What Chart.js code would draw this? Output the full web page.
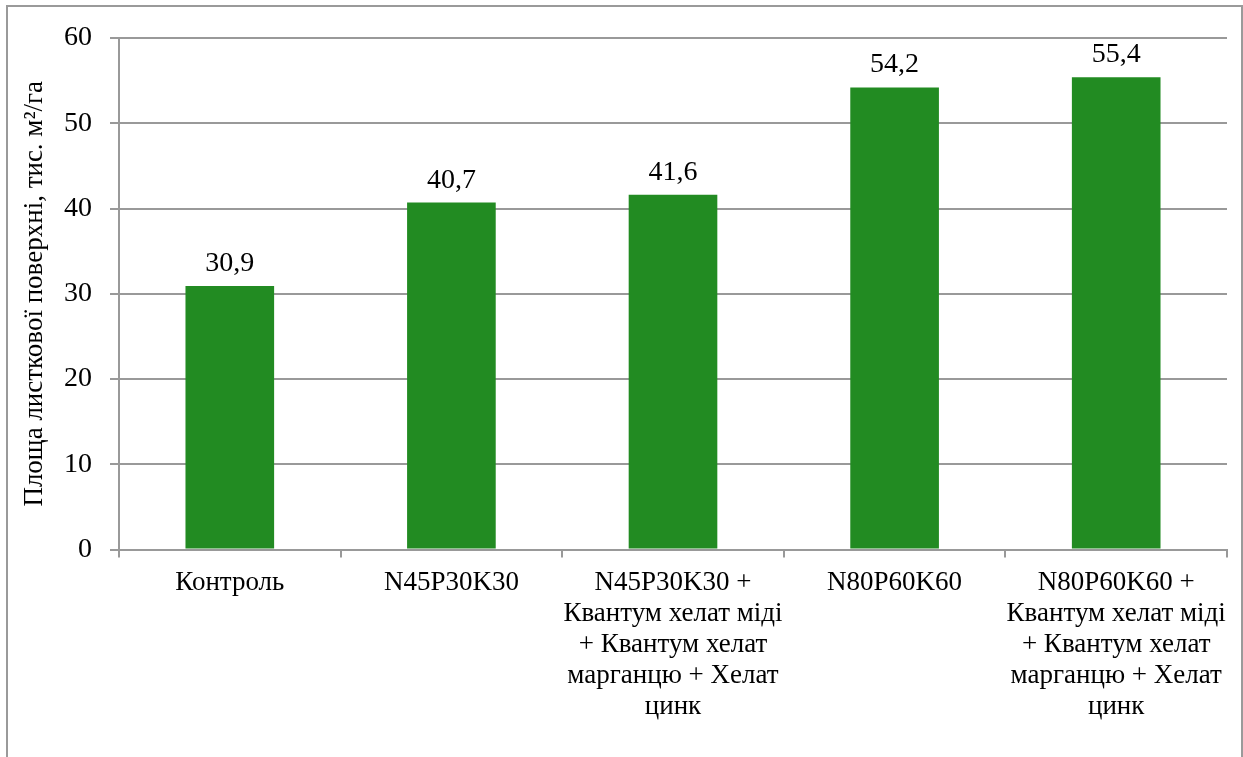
<!DOCTYPE html>
<html>
<head>
<meta charset="utf-8">
<script src="https://cdn.jsdelivr.net/npm/chart.js@4"></script>
<style>
  html, body { margin: 0; padding: 0; background: #fff; overflow: hidden; }
  #wrap { position: relative; width: 1243px; height: 757px; }
  #frame {
    position: absolute; left: 6px; top: 5px; width: 1233px; height: 800px;
    border: 2px solid #9a9a9a; pointer-events: none;
  }
</style>
</head>
<body>
<div id="wrap">
  <canvas id="leaf-chart" width="1243" height="757"></canvas>
  <div id="frame"></div>
</div>
<script>
const categories = [
  ['Контроль'],
  ['N45P30K30'],
  ['N45P30K30 +', 'Квантум хелат міді', '+ Квантум хелат', 'марганцю + Хелат', 'цинк'],
  ['N80P60K60'],
  ['N80P60K60 +', 'Квантум хелат міді', '+ Квантум хелат', 'марганцю + Хелат', 'цинк']
];
const leafArea = [30.9, 40.7, 41.6, 54.2, 55.4];
const yTicks = [0, 10, 20, 30, 40, 50, 60];
const yTitle = 'Площа листкової поверхні, тис. м²/га';

const FONT = "'Liberation Serif', 'Times New Roman', serif";
const GRID = '#999999';

// value labels above bars, decimal comma
const valueLabels = {
  id: 'valueLabels',
  afterDatasetsDraw(chart) {
    const ctx = chart.ctx;
    const meta = chart.getDatasetMeta(0);
    ctx.save();
    ctx.font = '28px ' + FONT;
    ctx.fillStyle = '#000';
    ctx.textAlign = 'center';
    ctx.textBaseline = 'alphabetic';
    meta.data.forEach((bar, i) => {
      const txt = leafArea[i].toFixed(1).replace('.', ',');
      ctx.fillText(txt, bar.x, bar.y - 15);
    });
    ctx.restore();
  }
};

new Chart(document.getElementById('leaf-chart').getContext('2d'), {
  type: 'bar',
  data: {
    labels: categories,
    datasets: [{
      data: leafArea,
      backgroundColor: '#228B22',
      borderWidth: 0,
      categoryPercentage: 1,
      barPercentage: 0.40
    }]
  },
  options: {
    responsive: false,
    animation: false,
    events: [],
    layout: { padding: { top: 38, right: 16, left: 0, bottom: 0 } },
    plugins: { legend: { display: false }, tooltip: { enabled: false } },
    scales: {
      x: {
        offset: true,
        afterFit(scale) { scale.height = 207.5; },
        grid: {
          offset: true,
          drawOnChartArea: false,
          color: GRID,
          lineWidth: 2,
          tickLength: 8
        },
        border: { color: GRID, width: 2 },
        ticks: {
          color: '#000',
          font: { family: FONT, size: 27, lineHeight: 1.15 },
          padding: 10,
          maxRotation: 0,
          minRotation: 0,
          autoSkip: false
        }
      },
      y: {
        min: 0,
        max: 60,
        afterFit(scale) { scale.width = 119; },
        afterBuildTicks(scale) { scale.ticks = yTicks.map(v => ({ value: v })); },
        grid: { color: GRID, lineWidth: 2, tickLength: 9 },
        border: { color: GRID, width: 2 },
        ticks: {
          color: '#000',
          font: { family: FONT, size: 28 },
          padding: 18
        },
        title: {
          display: true,
          text: yTitle,
          color: '#000',
          font: { family: FONT, size: 27 },
          padding: { top: 19, bottom: 0 }
        }
      }
    }
  },
  plugins: [valueLabels]
});
</script>
</body>
</html>
